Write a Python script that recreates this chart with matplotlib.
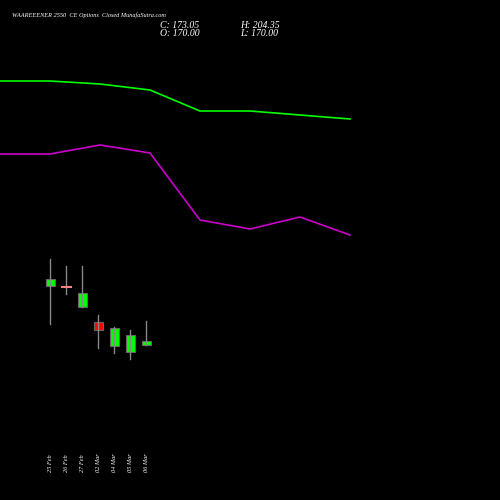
import matplotlib
matplotlib.use("Agg")
import matplotlib.pyplot as plt

labels = ["25 Feb","26 Feb","27 Feb","02 Mar","04 Mar","05 Mar","06 Mar"]
opens  = [286, 286.5, 307, 322, 346, 352, 345]
closes = [279, 287, 293, 330, 328, 335, 341]
highs  = [259, 266, 266, 315, 327, 330, 321]
lows   = [324, 294, 307, 348, 353, 359, 345]
cx     = [50, 66, 82, 98, 114, 130, 146]

line_x = [0, 50, 100, 150, 200, 250, 300, 350]
green_y = [81, 81, 84, 90, 111, 111, 115, 119]
mag_y   = [154, 154, 145, 153, 220, 229, 217, 235]

fig = plt.figure(figsize=(5,5), dpi=100, facecolor="black")
ax = fig.add_axes([0,0,1,1])
ax.set_facecolor("black")
ax.set_xlim(0,500); ax.set_ylim(500,0)
ax.axis("off")

ax.plot(line_x, green_y, color="#00ff00", lw=1.2)
ax.plot(line_x, mag_y, color="#cc00cc", lw=1.2)

for x,o,c,h,l,lab in zip(cx,opens,closes,highs,lows,labels):
    ax.plot([x,x],[h,l], color="#888888", lw=1)
    top, bot = min(o,c), max(o,c)
    if abs(o-c) < 1.5:
        ax.plot([x-4.5,x+4.5],[o,o], color="#ff8080", lw=1.5)
    else:
        col = "#00ff00" if c < o else "#ff0000"
        ax.add_patch(plt.Rectangle((x-4.5, top), 9, bot-top, facecolor=col, edgecolor="#666666", lw=0.8))
    ax.text(x, 472, lab, rotation=90, color="white", fontsize=4.5, ha="center", va="bottom", family="Liberation Serif", style="italic")

fnt = dict(color="white", family="Liberation Serif", style="italic")
ax.text(12, 15, "WAAREEENER 2550  CE Options  Closed MunafaSutra.com", fontsize=4.5, va="center", **fnt)
ax.text(160, 25, "C: 173.05", fontsize=7, va="center", **fnt)
ax.text(240, 25, "H: 204.35", fontsize=7, va="center", **fnt)
ax.text(160, 34, "O: 170.00", fontsize=7, va="center", **fnt)
ax.text(240, 34, "L: 170.00", fontsize=7, va="center", **fnt)

fig.savefig("out.png", dpi=100, facecolor="black")
